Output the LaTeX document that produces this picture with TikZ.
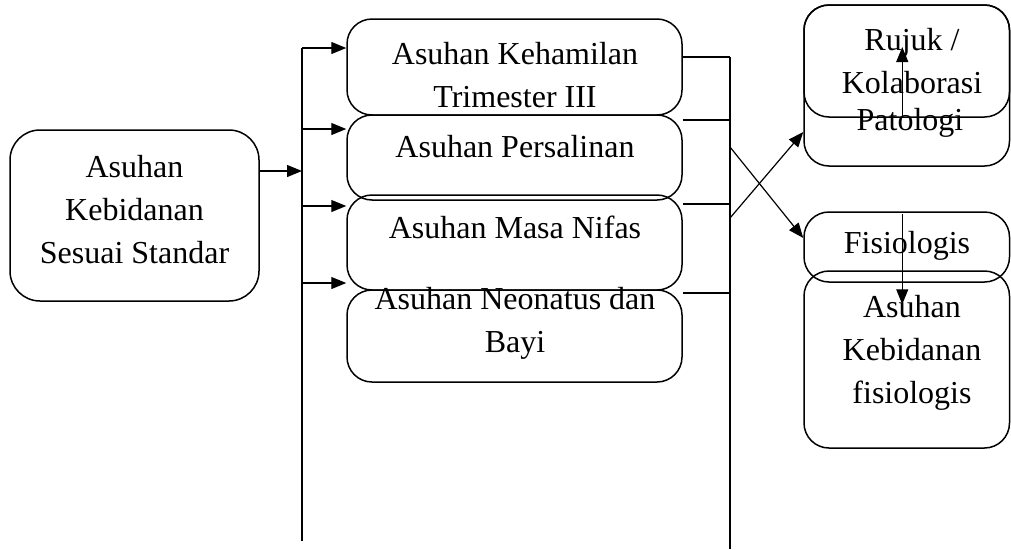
\documentclass[tikz,border=0pt]{standalone}
\usepackage{fontspec}
\setmainfont{Liberation Serif}
\usepackage{tikz}
\usetikzlibrary{shapes, arrows.meta, positioning, calc}

\begin{document}
\begin{tikzpicture}[x=1pt, y=-1pt,
    kotak/.style={draw, rounded corners=#1, line width=1.5pt, inner sep=0pt},
    kotak/.default=25pt,
    teks/.style={align=center, anchor=base, inner sep=0pt, font={\fontsize{32}{43}\selectfont}},
    garis/.style={line width=1.2pt},
    panah/.style={line width=1.2pt, -{Triangle[length=15pt, width=12pt]}}]
  \useasboundingbox (0,0) rectangle (1011,549);

  % kotak kiri
  \node[kotak=30pt, minimum width=249pt, minimum height=171pt] (standar) at (134.5,215.5) {};
  \node[teks] (tstandar) at (134.5,263) {Asuhan\\Kebidanan\\Sesuai Standar};

  % kotak tengah
  \node[kotak, minimum width=335pt, minimum height=96pt] (hamil) at (514.5,67) {};
  \node[teks] (thamil) at (515,107) {Asuhan Kehamilan\\Trimester III};
  \node[kotak, minimum width=335pt, minimum height=85pt] (salin) at (514.5,157.5) {};
  \node[teks] (tsalin) at (515,157) {Asuhan Persalinan};
  \node[kotak, minimum width=335pt, minimum height=95pt] (nifas) at (514.5,242.5) {};
  \node[teks] (tnifas) at (515,238) {Asuhan Masa Nifas};
  \node[kotak, minimum width=335pt, minimum height=92pt] (bayi) at (514.5,336) {};
  \node[teks] (tbayi) at (515,352) {Asuhan Neonatus dan\\Bayi};

  % kotak kanan
  \node[kotak, minimum width=205.5pt, minimum height=161pt] (patologi) at (906.75,85.5) {};
  \node[teks] (tpatologi) at (910,130) {Patologi};
  \node[kotak, minimum width=205.5pt, minimum height=112pt] (rujuk) at (906.75,61) {};
  \node[teks] (trujuk) at (912,93) {Rujuk /\\Kolaborasi};
  \node[kotak, minimum width=205.5pt, minimum height=70pt] (fisio) at (906.75,247) {};
  \node[teks] (tfisio) at (907,253) {Fisiologis};
  \node[kotak, minimum width=205.5pt, minimum height=177pt] (kebfis) at (906.75,359.5) {};
  \node[teks] (tkebfis) at (912,403) {Asuhan\\Kebidanan\\fisiologis};

  % jalur kiri
  \coordinate (busatas) at (302,48);
  \coordinate (busbawah) at (302,541);
  \coordinate (masuk) at (302,171);
  \draw[garis] (busatas) -- (busbawah);
  \draw[panah] (standar.east |- masuk) -- (masuk);
  \foreach \y/\k in {48/hamil, 129/salin, 206/nifas, 283/bayi}
    \draw[panah] (302,\y) -- (\k.west |- 0,\y);

  % jalur kanan
  \coordinate (kanatas) at (730,57);
  \coordinate (kanbawah) at (730,549);
  \draw[garis] (kanatas) -- (kanbawah);
  \foreach \y/\k in {57/hamil, 120/salin, 204/nifas, 293/bayi}
    \draw[garis] (\k.east |- 0,\y) -- (730,\y);

  % silang
  \coordinate (silang1) at (730,147);
  \coordinate (silang2) at (730,218);
  \draw[panah] (silang1) -- ([yshift=9pt]fisio.west);
  \draw[panah] (silang2) -- ([yshift=-46.5pt]patologi.west);

  % panah tegak
  \draw[panah] ([xshift=-4.5pt]rujuk.south) -- ([xshift=-4.5pt, yshift=14pt]rujuk.center);
  \draw[panah] ([xshift=-4.5pt, yshift=-3pt]fisio.north) -- ([xshift=-4.5pt, yshift=-34pt]kebfis.north);
\end{tikzpicture}
\end{document}
